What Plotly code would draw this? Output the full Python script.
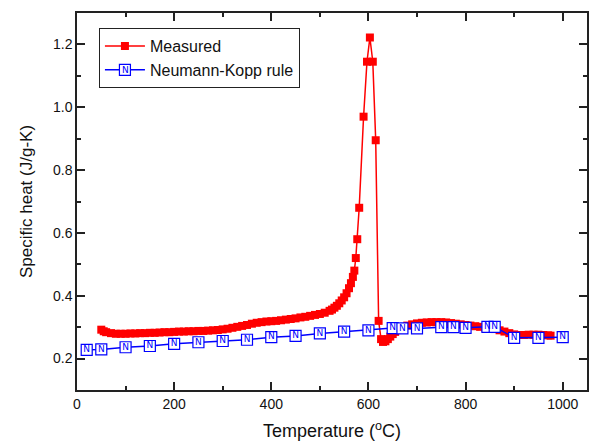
import plotly.graph_objects as go

# Measured specific heat
meas_T = [50, 55, 60, 70, 80, 90, 100, 110, 120, 130, 140, 150, 160, 170, 180, 190,
          200, 210, 220, 230, 240, 250, 260, 270, 280, 290, 300, 310, 320, 330, 340,
          350, 360, 370, 380, 390, 400, 410, 420, 430, 440, 450, 460, 470, 480, 490,
          500, 510, 520, 525, 530, 535, 540, 545, 550, 555, 560, 564, 568, 571, 574,
          577, 581, 590, 597, 603, 609, 615, 621, 626, 630, 635, 640, 645, 650, 655,
          660, 670, 680, 690, 700, 710, 720, 730, 740, 750, 760, 770, 780, 790, 800,
          810, 820, 830, 840, 850, 860, 870, 880, 890, 900, 910, 920, 930, 940, 950,
          960, 970, 975]
meas_cp = [0.292, 0.287, 0.284, 0.281, 0.279, 0.279, 0.279, 0.280, 0.280, 0.281, 0.281,
           0.282, 0.282, 0.283, 0.284, 0.284, 0.285, 0.286, 0.286, 0.287, 0.287, 0.288,
           0.288, 0.289, 0.290, 0.291, 0.293, 0.295, 0.298, 0.301, 0.304, 0.307, 0.311,
           0.314, 0.316, 0.318, 0.319, 0.320, 0.322, 0.324, 0.326, 0.328, 0.331, 0.333,
           0.336, 0.339, 0.342, 0.346, 0.352, 0.356, 0.362, 0.368, 0.376, 0.385, 0.395,
           0.408, 0.424, 0.440, 0.460, 0.480, 0.520, 0.580, 0.680, 0.970, 1.145, 1.222,
           1.145, 0.895, 0.320, 0.262, 0.253, 0.255, 0.262, 0.270, 0.278, 0.285, 0.291,
           0.299, 0.305, 0.309, 0.312, 0.314, 0.315, 0.316, 0.316, 0.316, 0.315, 0.313,
           0.311, 0.309, 0.307, 0.305, 0.303, 0.301, 0.299, 0.297, 0.294, 0.290, 0.286,
           0.281, 0.277, 0.275, 0.275, 0.276, 0.276, 0.276, 0.275, 0.274, 0.273]

# Neumann-Kopp rule estimate
nk_T = [20, 50, 100, 150, 200, 250, 300, 350, 400, 450, 500, 550, 600, 650, 670,
        700, 750, 775, 800, 845, 860, 900, 950, 1000]
nk_cp = [0.228, 0.229, 0.236, 0.240, 0.247, 0.252, 0.256, 0.260, 0.268, 0.272, 0.280,
         0.286, 0.290, 0.297, 0.296, 0.296, 0.300, 0.300, 0.298, 0.301, 0.301, 0.266,
         0.266, 0.268]

x_ticks = [0, 200, 400, 600, 800, 1000]
y_ticks = [0.2, 0.4, 0.6, 0.8, 1.0, 1.2]
y_tick_text = ["0.2", "0.4", "0.6", "0.8", "1.0", "1.2"]

RED = "#ff0000"
BLUE = "#0000ff"
FONT = "Liberation Sans, Arial, sans-serif"
NFONT = dict(family="DejaVu Sans, sans-serif", size=9, color=BLUE)

fig = go.Figure()
fig.add_trace(go.Scatter(
    x=meas_T, y=meas_cp, name="Measured", mode="lines+markers",
    line=dict(color=RED, width=1.5),
    marker=dict(symbol="square", size=8, color=RED, line=dict(width=0)),
))
fig.add_trace(go.Scatter(
    x=nk_T, y=nk_cp, name="Neumann-Kopp rule", mode="lines+markers+text",
    text=["N"] * len(nk_T), textposition="middle center",
    textfont=NFONT,
    line=dict(color=BLUE, width=1.5),
    marker=dict(symbol="square", size=11, color="white", line=dict(color=BLUE, width=1.2)),
))

axis_common = dict(
    showline=True, linecolor="#222222", linewidth=1.5, mirror="ticks",
    ticks="inside", ticklen=8, tickwidth=1.5, tickcolor="#222222",
    showgrid=False, zeroline=False, automargin=False,
    tickfont=dict(family=FONT, size=14, color="#111111"),
)

fig.update_xaxes(
    range=[0, 1050], tickvals=x_ticks,
    title=dict(text="Temperature (<sup>o</sup>C)", font=dict(family=FONT, size=18, color="#111111"), standoff=14),
    minor=dict(tickvals=[100, 300, 500, 700, 900], ticks="inside", ticklen=4, tickwidth=1.5, tickcolor="#222222"),
    **axis_common,
)
fig.update_yaxes(
    range=[0.1, 1.3], tickvals=y_ticks, ticktext=y_tick_text,
    title=dict(text="Specific heat (J/g-K)", font=dict(family=FONT, size=17, color="#111111"), standoff=16),
    minor=dict(tickvals=[0.3, 0.5, 0.7, 0.9, 1.1], ticks="inside", ticklen=4, tickwidth=1.5, tickcolor="#222222"),
    **axis_common,
)

fig.update_layout(
    width=594, height=442,
    margin=dict(l=77, r=7, t=13, b=52),
    paper_bgcolor="white", plot_bgcolor="white",
    legend=dict(
        x=0.043, y=0.96, xanchor="left", yanchor="top",
        bgcolor="white", bordercolor="#222222", borderwidth=1,
        font=dict(family=FONT, size=16, color="#111111"),
        tracegroupgap=0, itemwidth=40,
    ),
)
# "N" glyph inside the legend symbol of the Neumann-Kopp entry
fig.add_annotation(
    text="N", xref="paper", yref="paper", x=0.0945, y=0.85,
    showarrow=False, font=NFONT, xanchor="center", yanchor="middle",
)

fig.write_html("out.html", config={"displayModeBar": False},
               post_script="document.body.style.margin='0';")
